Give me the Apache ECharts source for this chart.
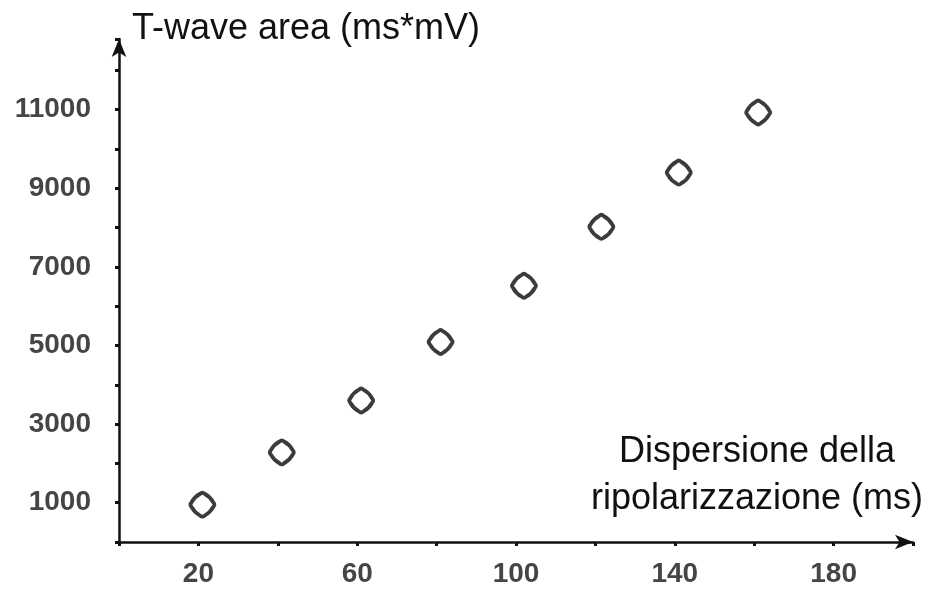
<!DOCTYPE html>
<html>
<head>
<meta charset="utf-8">
<script src="https://cdn.jsdelivr.net/npm/echarts@6/dist/echarts.min.js"></script>
<style>
html,body{margin:0;padding:0;background:#fff;}
#chart{width:934px;height:590px;}
</style>
</head>
<body>
<div id="chart"></div>
<script>
// Data
const dispersion = [21, 41, 61, 81, 102, 121.5, 141, 161];   // ms
const tWaveArea = [950, 2280, 3600, 5090, 6520, 8020, 9400, 10930]; // ms*mV
const xLabelsShown = [20, 60, 100, 140, 180];
const yLabelsShown = [1000, 3000, 5000, 7000, 9000, 11000];
const xAxisName = 'Dispersione della\nripolarizzazione (ms)';
const yAxisName = 'T-wave area (ms*mV)';

const points = dispersion.map((x, i) => [x, tWaveArea[i]]);

const roundedDiamond = 'path://M8.3,1.7 Q10,0 11.7,1.7 Q16,4 18.3,8.3 Q20,10 18.3,11.7 Q16,16 11.7,18.3 Q10,20 8.3,18.3 Q4,16 1.7,11.7 Q0,10 1.7,8.3 Q4,4 8.3,1.7 Z';

const chart = echarts.init(document.getElementById('chart'));
const labelStyle = {
  fontFamily: 'Liberation Sans, Arial, sans-serif',
  fontSize: 28,
  fontWeight: 'bold',
  color: '#454545'
};
chart.setOption({
  backgroundColor: '#ffffff',
  animation: false,
  grid: { left: 119, right: 21, top: 39, bottom: 48, containLabel: false },
  xAxis: {
    type: 'value',
    min: 0,
    max: 200,
    interval: 20,
    name: xAxisName,
    nameLocation: 'end',
    nameGap: -156,
    nameTextStyle: {
      fontFamily: 'Liberation Sans, Arial, sans-serif',
      fontSize: 36,
      color: '#111',
      align: 'center',
      verticalAlign: 'bottom',
      lineHeight: 47,
      padding: [0, 0, 19, 0]
    },
    axisLine: {
      show: true,
      symbol: ['none', 'arrow'],
      symbolSize: [11, 18],
      lineStyle: { color: '#111', width: 2.5 }
    },
    axisTick: { show: true, length: 4, lineStyle: { color: '#111', width: 3 } },
    axisLabel: {
      ...labelStyle,
      margin: 18,
      formatter: v => xLabelsShown.includes(v) ? String(v) : ''
    },
    splitLine: { show: false }
  },
  yAxis: {
    type: 'value',
    min: 0,
    max: 12800,
    interval: 1000,
    name: yAxisName,
    nameLocation: 'end',
    nameGap: 10,
    nameTextStyle: {
      fontFamily: 'Liberation Sans, Arial, sans-serif',
      fontSize: 36,
      color: '#111',
      align: 'left',
      verticalAlign: 'middle',
      padding: [0, 0, 0, 13]
    },
    axisLine: {
      show: true,
      symbol: ['none', 'arrow'],
      symbolSize: [11, 18],
      lineStyle: { color: '#111', width: 2.5 }
    },
    axisTick: { show: true, length: 4, lineStyle: { color: '#111', width: 3 } },
    axisLabel: {
      ...labelStyle,
      margin: 28,
      formatter: v => yLabelsShown.includes(v) ? String(v) : ''
    },
    splitLine: { show: false }
  },
  series: [{
    type: 'scatter',
    data: points,
    symbol: roundedDiamond,
    symbolSize: 24,
    itemStyle: { color: '#ffffff', borderColor: '#0a0a0a', borderWidth: 3.8 }
  }]
});
</script>
</body>
</html>
